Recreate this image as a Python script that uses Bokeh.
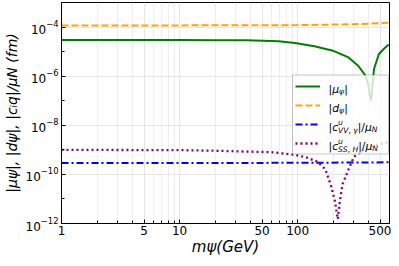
import math
from bokeh.plotting import figure
from bokeh.models import (Range1d, FixedTicker, PrintfTickFormatter, Legend,
                          LegendItem, Label, BoxAnnotation)
from bokeh.embed import file_html
from bokeh.resources import INLINE

# ---------------- data ----------------
m_mu = [1, 5, 10, 20, 37, 69, 95, 139, 203, 270, 327, 374, 395, 410, 419, 428, 444, 488, 547, 590]
mu_abs = [3.0e-5, 2.98e-5, 2.95e-5, 2.92e-5, 2.88e-5, 2.65e-5, 2.25e-5, 1.65e-5, 1.05e-5,
          5.8e-6, 2.6e-6, 1.07e-6, 5.0e-7, 1.5e-7, 1.0e-7, 3.0e-7, 2.0e-6, 8.0e-6, 1.4e-5, 1.95e-5]

m_d = [1, 10, 50, 100, 200, 300, 400, 500, 590]
d_abs = [1.17e-4, 1.17e-4, 1.18e-4, 1.2e-4, 1.26e-4, 1.31e-4, 1.37e-4, 1.44e-4, 1.5e-4]

m_vv = [1, 100, 590]
c_vv = [2.9e-10, 2.95e-10, 3.1e-10]

m_ss = [1, 10, 20, 37, 60, 95, 120, 147, 172, 192, 207, 219, 228, 240, 270, 300, 395, 590]
c_ss = [1.0e-9, 9.7e-10, 9.2e-10, 8.5e-10, 8.0e-10, 6.3e-10, 4.8e-10, 3.3e-10, 1.6e-10,
        3.4e-11, 8e-12, 1.5e-12, 8e-12, 4e-11, 1.6e-10, 5.2e-10, 1.3e-9, 2.1e-9]

x_major = [1, 5, 10, 50, 100, 500]
x_minor = [2, 3, 4, 6, 7, 8, 9, 20, 30, 40, 60, 70, 80, 90, 200, 300, 400, 600]
y_major = [1e-12, 1e-10, 1e-8, 1e-6, 1e-4]
y_minor = [1e-11, 1e-9, 1e-7, 1e-5, 1e-3]

x_title = "mψ(GeV)"
y_title = "|μψ|, |dψ|, |cᵢq|/μN (fm)"

# ---------------- layout ----------------
W, H = 391, 258
BL, BR, BT, BB = 61, 2, 2, 34
FW = W - BL - BR
FH = H - BT - BB
FONT = "DejaVu Sans"

p = figure(width=W, height=H, x_axis_type="log", y_axis_type="log",
           x_range=Range1d(1, 600), y_range=Range1d(1e-12, 1e-3),
           output_backend="svg", toolbar_location=None,
           min_border_left=BL, min_border_right=BR,
           min_border_top=BT, min_border_bottom=BB,
           x_axis_label=x_title, y_axis_label=y_title)
p.background_fill_color = "white"
p.border_fill_color = "white"
p.outline_line_color = "black"
p.outline_line_width = 1

xt = FixedTicker(ticks=x_major, minor_ticks=x_minor)
yt = FixedTicker(ticks=y_major, minor_ticks=y_minor)
p.xaxis.ticker = xt
p.yaxis.ticker = yt
p.xgrid.ticker = xt
p.ygrid.ticker = yt
p.xaxis.formatter = PrintfTickFormatter(format="%d")

p.axis.axis_line_color = "black"
p.axis.major_tick_line_color = "black"
p.axis.minor_tick_line_color = "black"
p.axis.major_tick_in = 4
p.axis.major_tick_out = 0
p.axis.minor_tick_in = 3
p.axis.minor_tick_out = 0
p.axis.major_label_text_font = FONT
p.axis.major_label_text_font_size = "12px"
p.axis.major_label_text_color = "black"
p.yaxis.major_label_standoff = 3
p.xaxis.major_label_standoff = 2
p.axis.axis_label_text_font = FONT
p.axis.axis_label_text_font_style = "italic"
p.axis.axis_label_text_color = "black"
p.xaxis.axis_label_text_font_size = "15px"
p.yaxis.axis_label_text_font_size = "14px"
p.xaxis.axis_label_standoff = 0
p.yaxis.axis_label_standoff = 3

p.xgrid.grid_line_color = "#e6e6e6"
p.xgrid.minor_grid_line_color = "#eeeeee"
p.ygrid.grid_line_color = "#e6e6e6"

r_mu = p.line(m_mu, mu_abs, line_color="green", line_width=2)
r_d = p.line(m_d, d_abs, line_color="orange", line_width=2, line_dash="7 3")
r_vv = p.line(m_vv, c_vv, line_color="blue", line_width=2, line_dash="7 3 2 3")
r_ss = p.line(m_ss, c_ss, line_color="purple", line_width=2.3, line_dash="2 3")

# ---------------- legend: box, glyph samples, rich-text labels ----------------
PAD, SPC, ROWH = 3, 3, 16
LEG_W = 96
LEG_H = 2 * PAD + 4 * ROWH + 3 * SPC
leg_x = FW - LEG_W - 1
leg_bottom = FH / 2 - LEG_H / 2 - 2
leg_top = leg_bottom + LEG_H

p.add_layout(BoxAnnotation(left=leg_x, right=leg_x + LEG_W, bottom=leg_bottom, top=leg_top,
                           left_units="screen", right_units="screen",
                           bottom_units="screen", top_units="screen",
                           fill_color="white", fill_alpha=0.8,
                           line_color="#444444", line_width=1, level="annotation"))

legend = Legend(items=[LegendItem(label=" ", renderers=[r]) for r in (r_mu, r_d, r_vv, r_ss)],
                location=(leg_x, leg_bottom), padding=PAD, spacing=SPC,
                glyph_width=25, glyph_height=ROWH, label_height=ROWH,
                label_width=57, label_standoff=8, margin=0,
                label_text_font_size="1px",
                border_line_alpha=0, background_fill_alpha=0)
p.add_layout(legend)

ADV = {" ": 651, "|": 690, ",": 651, "/": 690, "(": 799, ")": 799, "c": 1126, "d": 1300,
       "e": 1260, "f": 721, "i": 569, "m": 1995, "q": 1300, "u": 1298, "G": 1589,
       "H": 1540, "N": 1532, "S": 1300, "V": 1401, "μ": 1300, "ψ": 1420, "γ": 1212}


def tw(s, size):
    return sum(ADV.get(ch, 1250) for ch in s) / 2048.0 * size


def runs(s):
    out, cur, cur_it = [], "", None
    for ch in s:
        it = ch.isalpha()
        if cur and it != cur_it:
            out.append((cur, cur_it))
            cur = ""
        cur += ch
        cur_it = it
    if cur:
        out.append((cur, cur_it))
    return out


def rich(parts, x0, y0, size):
    sub_s = 0.7 * size

    def width(part):
        if part[0] == "n":
            return tw(part[1], size)
        if part[0] in ("sub", "sup"):
            return tw(part[1], sub_s)
        return max(tw(part[1], sub_s), tw(part[2], sub_s))

    def place(txt, sz, a, off):
        for t, it in runs(txt):
            lab = Label(x=x0 + a, y=y0 + off, x_units="screen", y_units="screen", text=t,
                        text_font=FONT, text_font_style="italic" if it else "normal",
                        text_font_size=f"{sz:.1f}px", text_color="black",
                        text_align="left", text_baseline="alphabetic", level="overlay")
            p.add_layout(lab)
            a += tw(t, sz)

    adv = 0.0
    for pt in parts:
        if pt[0] == "n":
            place(pt[1], size, adv, 0)
        elif pt[0] == "sub":
            place(pt[1], sub_s, adv, -0.22 * size)
        elif pt[0] == "sup":
            place(pt[1], sub_s, adv, 0.45 * size)
        else:
            place(pt[1], sub_s, adv, -0.25 * size)
            place(pt[2], sub_s, adv, 0.45 * size)
        adv += width(pt)


legend_texts = [
    [("n", "|μ"), ("sub", "ψ"), ("n", "|")],
    [("n", "|d"), ("sub", "ψ"), ("n", "|")],
    [("n", "|c"), ("ss", "VV, γ", "u"), ("n", "|/μ"), ("sub", "N")],
    [("n", "|c"), ("ss", "SS, H", "u"), ("n", "|/μ"), ("sub", "N")],
]
LS = 10.8
for i, parts in enumerate(legend_texts):
    cy = leg_top - (PAD + ROWH / 2 + i * (ROWH + SPC))
    rich(parts, leg_x + PAD + 25 + 8, cy - 0.33 * LS, LS)

open("out.html", "w").write(file_html(p, INLINE))
